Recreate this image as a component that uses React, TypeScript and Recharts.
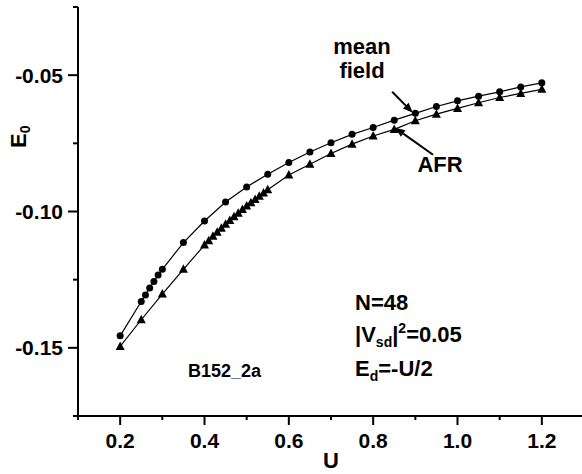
import { LineChart, Line, XAxis, YAxis, ReferenceLine, Customized } from 'recharts';

// mean field curve (circles)
const meanFieldU = [
  0.2, 0.25, 0.26, 0.27, 0.28, 0.29, 0.3, 0.35, 0.4, 0.45, 0.5, 0.55, 0.6,
  0.65, 0.7, 0.75, 0.8, 0.85, 0.9, 0.95, 1.0, 1.05, 1.1, 1.15, 1.2,
];
const meanFieldE = [
  -0.1456, -0.133, -0.1306, -0.1281, -0.1257, -0.1233, -0.1212, -0.1114, -0.1035,
  -0.0965, -0.091, -0.0863, -0.082, -0.0782, -0.0748, -0.0717, -0.0692, -0.0665,
  -0.064, -0.0615, -0.0594, -0.0577, -0.0561, -0.0543, -0.0528,
];

// AFR curve (triangles)
const afrU = [
  0.2, 0.25, 0.3, 0.35, 0.4, 0.41, 0.42, 0.43, 0.44, 0.45, 0.46, 0.47, 0.48,
  0.49, 0.5, 0.51, 0.52, 0.53, 0.54, 0.55, 0.6, 0.65, 0.7, 0.75, 0.8, 0.85, 0.9,
  0.95, 1.0, 1.05, 1.1, 1.15, 1.2,
];
const afrE = [
  -0.1495, -0.1397, -0.1303, -0.1212, -0.1123, -0.1107, -0.1091, -0.1076, -0.1061,
  -0.1047, -0.1033, -0.1019, -0.1006, -0.0993, -0.098, -0.0968, -0.0956, -0.0944,
  -0.0932, -0.092, -0.0866, -0.0827, -0.0787, -0.0753, -0.0723, -0.0699, -0.0667,
  -0.0643, -0.0622, -0.0601, -0.0582, -0.0567, -0.0552,
];

const xTicks = [0.1, 0.2, 0.3, 0.4, 0.5, 0.6, 0.7, 0.8, 0.9, 1.0, 1.1, 1.2, 1.3];
const yTicks = [-0.175, -0.15, -0.125, -0.1, -0.075, -0.05, -0.025];

// arrows pointing from the labels to the curves
const meanArrow = [
  { u: 0.845, e: -0.0561 },
  { u: 0.894, e: -0.0638 },
];
const afrArrow = [
  { u: 0.942, e: -0.0792 },
  { u: 0.852, e: -0.0693 },
];

const meanData = meanFieldU.map((u, i) => ({ u, e: meanFieldE[i] }));
const afrData = afrU.map((u, i) => ({ u, e: afrE[i] }));

const FONT = '"Liberation Sans", Arial, sans-serif';

function XTick({ x, y, payload }: any) {
  const v = payload.value;
  const major = Math.abs(Math.round(v * 10) % 2) === 0;
  return (
    <g>
      <line x1={x} x2={x} y1={y} y2={y + (major ? 9 : 4)} stroke="#000" strokeWidth={2} />
      {major && v > 0.15 && v < 1.25 && (
        <text x={x} y={y + 32} textAnchor="middle" fontFamily={FONT} fontWeight="bold" fontSize={21} fill="#000">
          {v.toFixed(1)}
        </text>
      )}
    </g>
  );
}

function YTick({ x, y, payload }: any) {
  const v = payload.value;
  const major = Math.abs(v * 100 - Math.round(v * 100)) < 1e-6;
  return (
    <g>
      <line x1={x - (major ? 10 : 5)} x2={x} y1={y} y2={y} stroke="#000" strokeWidth={2} />
      {major && (
        <text x={x - 15} y={y + 7.5} textAnchor="end" fontFamily={FONT} fontWeight="bold" fontSize={21} fill="#000">
          {v.toFixed(2)}
        </text>
      )}
    </g>
  );
}

function Triangle({ cx, cy }: any) {
  if (cx == null || cy == null) return null;
  return <path d={`M${cx},${cy - 5} L${cx + 4.5},${cy + 3.5} L${cx - 4.5},${cy + 3.5} Z`} fill="#000" />;
}

function Arrow({ x1, y1, x2, y2 }: any) {
  const a = Math.atan2(y2 - y1, x2 - x1);
  const len = 10;
  const w = 4;
  const bx = x2 - len * Math.cos(a);
  const by = y2 - len * Math.sin(a);
  const px = -Math.sin(a) * w;
  const py = Math.cos(a) * w;
  return (
    <g>
      <line x1={x1} y1={y1} x2={bx} y2={by} stroke="#000" strokeWidth={2} />
      <path d={`M${x2},${y2} L${bx + px},${by + py} L${bx - px},${by - py} Z`} fill="#000" />
    </g>
  );
}

function Annotations() {
  return (
    <g fontFamily={FONT} fontWeight="bold" fontSize={22} fill="#000">
      <text x={362} y={54} textAnchor="middle">mean</text>
      <text x={362} y={78} textAnchor="middle">field</text>
      <text x={440} y={172} textAnchor="middle">AFR</text>
      <text x={355} y={310}>N=48</text>
      <text x={355} y={342}>
        |V<tspan dy={5} fontSize={14}>sd</tspan>
        <tspan dy={-5}>|</tspan>
        <tspan dy={-9} fontSize={14}>2</tspan>
        <tspan dy={9}>=0.05</tspan>
      </text>
      <text x={355} y={376}>
        E<tspan dy={5} fontSize={14}>d</tspan>
        <tspan dy={-5}>=-U/2</tspan>
      </text>
      <text x={188} y={377} fontSize={18}>B152_2a</text>
      <text x={331} y={468} textAnchor="middle" fontSize={22}>U</text>
      <text transform="translate(26,148) rotate(-90)" fontSize={22}>
        E<tspan dy={4} fontSize={14}>0</tspan>
      </text>
    </g>
  );
}

export default function App() {
  return (
    <div style={{ position: 'absolute', left: 0, top: 0, width: 582, height: 474, background: '#fff' }}>
      <LineChart width={582} height={474} margin={{ top: 7, right: -2, bottom: 0, left: 0 }}>
        <XAxis
          dataKey="u"
          type="number"
          domain={[0.1, 1.3]}
          ticks={xTicks}
          interval={0}
          allowDataOverflow
          height={58}
          tickSize={0}
          tickMargin={0}
          tick={<XTick />}
          axisLine={{ stroke: '#000', strokeWidth: 2 }}
        />
        <YAxis
          dataKey="e"
          type="number"
          domain={[-0.175, -0.025]}
          ticks={yTicks}
          interval={0}
          allowDataOverflow
          width={78}
          tickSize={0}
          tickMargin={0}
          tick={<YTick />}
          axisLine={{ stroke: '#000', strokeWidth: 2 }}
        />
        <Line
          data={meanData}
          dataKey="e"
          type="linear"
          stroke="#000"
          strokeWidth={1.2}
          dot={{ r: 3.5, fill: '#000', stroke: 'none' }}
          activeDot={false}
          isAnimationActive={false}
        />
        <Line
          data={afrData}
          dataKey="e"
          type="linear"
          stroke="#000"
          strokeWidth={1.2}
          dot={<Triangle />}
          activeDot={false}
          isAnimationActive={false}
        />
        <ReferenceLine
          segment={[{ x: meanArrow[0].u, y: meanArrow[0].e }, { x: meanArrow[1].u, y: meanArrow[1].e }]}
          shape={(p: any) => <Arrow {...p} />}
        />
        <ReferenceLine
          segment={[{ x: afrArrow[0].u, y: afrArrow[0].e }, { x: afrArrow[1].u, y: afrArrow[1].e }]}
          shape={(p: any) => <Arrow {...p} />}
        />
        <Customized component={Annotations} />
      </LineChart>
    </div>
  );
}
